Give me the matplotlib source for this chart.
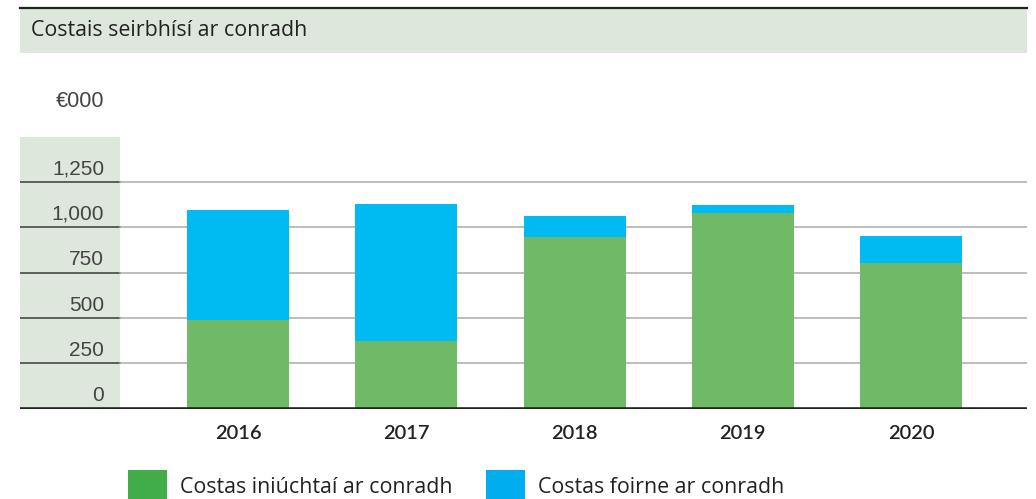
import matplotlib
matplotlib.use("Agg")
import matplotlib.pyplot as plt
import matplotlib.transforms as mtransforms
from matplotlib.patches import Rectangle
import numpy as np

# data (€000)
YEARS       = ["2016", "2017", "2018", "2019", "2020"]
AUDIT_COSTS = [491, 373, 947, 1079, 803]          # Costas iniúchtaí ar conradh
STAFF_COSTS = [604, 755, 115, 44, 149]            # Costas foirne ar conradh
Y_TICKS     = [0, 250, 500, 750, 1000, 1250]
Y_LABELS    = ["0", "250", "500", "750", "1,000", "1,250"]
SERIES      = ["Costas iniúchtaí ar conradh", "Costas foirne ar conradh"]

TITLE  = "Costais seirbhísí ar conradh"
YUNIT  = "€000"

W, H = 1036, 499
BAR_GREEN = "#70BA67"
BAR_BLUE  = "#00BAF2"
LEG_GREEN = "#41AD49"
LEG_BLUE  = "#00AEEF"
BAND      = "#DDE7DB"


def fx(px):
    return px / W


def fy(py):
    # pixel rows counted from the top
    return 1 - py / H


fig = plt.figure(figsize=(W / 100, H / 100), dpi=100)

# title band + rule on top
fig.add_artist(Rectangle((fx(20), fy(53)), fx(1007), 45 / H,
                         transform=fig.transFigure, color=BAND, lw=0))
fig.add_artist(plt.Line2D([fx(20), fx(1027)], [fy(8), fy(8)],
                          transform=fig.transFigure, color="#222222", lw=1.6))
fig.text(fx(31), fy(36), TITLE, fontsize=15.4, family="Open Sans",
         color="#222222", va="baseline", ha="left")

# plot area
ax = fig.add_axes([fx(20), fy(408.7), fx(1007), (408.7 - 137) / H])
x = np.arange(len(YEARS))
px_per_unit = 168.25
ax.set_xlim((20 - 238) / px_per_unit, (1027 - 238) / px_per_unit)
ax.set_ylim(0, 1498)
for s in ax.spines.values():
    s.set_visible(False)

band_right = (120 - 238) / px_per_unit
ax.axvspan(ax.get_xlim()[0], band_right, color=BAND, lw=0, zorder=0)

# grid lines: dark inside the label band, grey across the plot
band_frac = (120 - 20) / 1007
for v in Y_TICKS[1:]:
    ax.axhline(v, xmin=0, xmax=band_frac, color="#3a3a3a", lw=1.1, zorder=1)
    ax.axhline(v, xmin=band_frac, xmax=1, color="#ABABAB", lw=1.1, zorder=1)
ax.axhline(0, color="#222222", lw=2.6, zorder=4)

bw = 102 / px_per_unit
ax.bar(x, AUDIT_COSTS, width=bw, color=BAR_GREEN, zorder=3)
ax.bar(x, STAFF_COSTS, width=bw, bottom=AUDIT_COSTS, color=BAR_BLUE, zorder=3)

# y tick labels sit above their grid lines
lab_tr = mtransforms.offset_copy(
    mtransforms.blended_transform_factory(ax.transData, ax.transData),
    fig=fig, x=0, y=7.5, units="dots")
for v, lab in zip(Y_TICKS, Y_LABELS):
    ax.text((104 - 238) / px_per_unit, v, lab, transform=lab_tr,
            ha="right", va="baseline", fontsize=15, family="Liberation Sans",
            color="#444444")
fig.text(fx(104), fy(107), YUNIT, ha="right", va="baseline", fontsize=15.5,
         family="Liberation Sans", color="#444444")

ax.set_yticks([])
ax.set_xticks(x, YEARS)
ax.tick_params(axis="x", length=0, pad=12)
for t in ax.get_xticklabels():
    t.set_fontsize(14.5)
    t.set_family("Lato")
    t.set_fontweight("semibold")
    t.set_color("#222222")

# legend
for sx, col, lab in [(128, LEG_GREEN, SERIES[0]), (486, LEG_BLUE, SERIES[1])]:
    fig.add_artist(Rectangle((fx(sx), fy(499)), fx(39), 29 / H,
                             transform=fig.transFigure, color=col, lw=0))
    fig.text(fx(sx + 52), fy(493), lab, fontsize=15.4, family="Open Sans",
             color="#222222", va="baseline", ha="left")

fig.savefig("out.png", dpi=100)
